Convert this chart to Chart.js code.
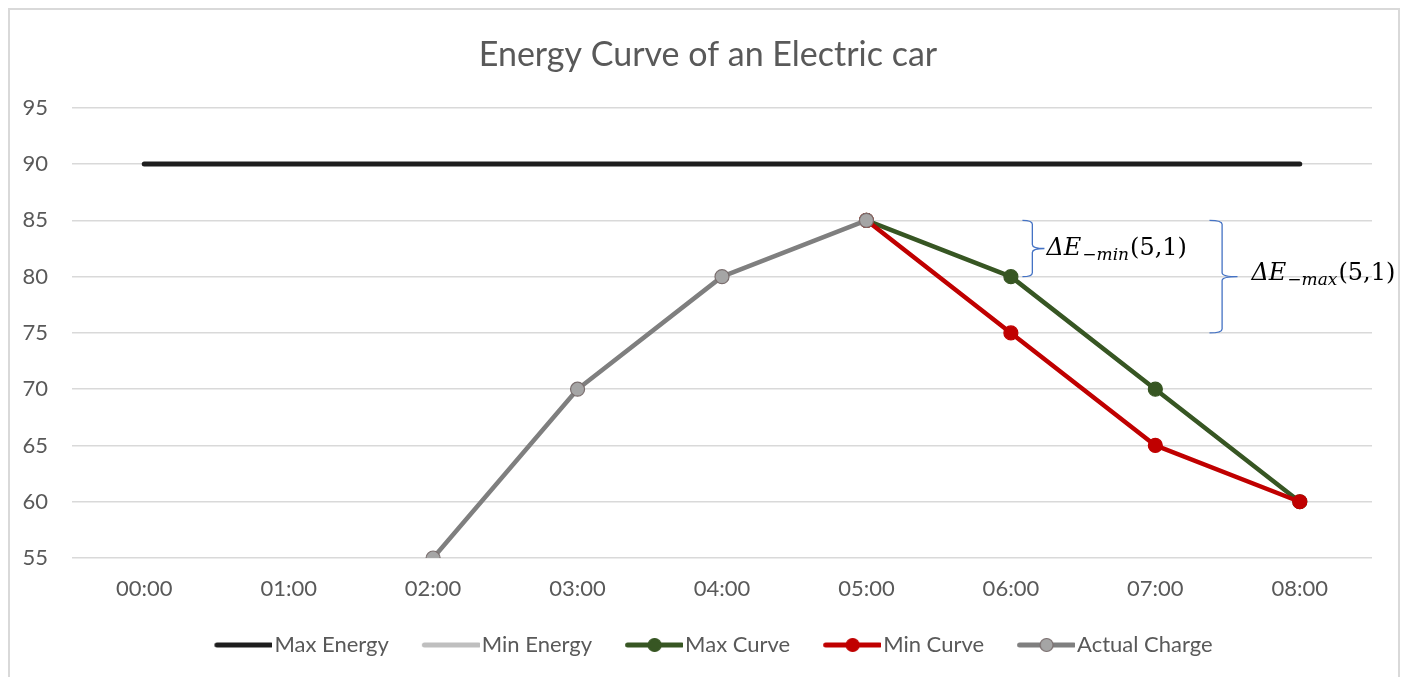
<!DOCTYPE html>
<html>
<head>
<meta charset="utf-8">
<script src="https://cdn.jsdelivr.net/npm/chart.js@4/dist/chart.umd.min.js"></script>
<style>
  html, body { margin: 0; padding: 0; background: #fff; }
  #wrap { position: relative; width: 1406px; height: 677px; }
</style>
</head>
<body>
<div id="wrap"><canvas id="c" width="1406" height="677"></canvas></div>
<script>
// Hourly time slots
const hours = ['00:00', '01:00', '02:00', '03:00', '04:00', '05:00', '06:00', '07:00', '08:00'];

// Energy series
const maxEnergy    = [90, 90, 90, 90, 90, 90, 90, 90, 90];
const minEnergy    = [50, 50, 50, 50, 50, 50, 50, 50, 50];
const maxCurve     = [null, null, null, null, null, 85, 80, 70, 60];
const minCurve     = [null, null, null, null, null, 85, 75, 65, 60];
const actualCharge = [null, null, 55, 70, 80, 85, null, null, null];

// Value axis range
const yMin = 55;
const yMax = 95;
const yStep = 5;

// Energy-gap brackets: top value, bottom value, subscript
const gapTop    = [85, 85];
const gapBottom = [80, 75];
const gapSub    = ['\u2212min', '\u2212max'];

const TEXT = '#595959';
const FONT = 'Lato, "Open Sans", sans-serif';

// Legend swatch: a line with an optional round marker, drawn to the left of
// the swatch centre so the line ends right next to the label text
function swatch(color, marker, markerBorder) {
  const cv = document.createElement('canvas');
  cv.width = 78; cv.height = 18;
  const g = cv.getContext('2d');
  g.strokeStyle = color;
  g.lineWidth = 5;
  g.lineCap = 'round';
  g.beginPath(); g.moveTo(22.5, 9); g.lineTo(76.5, 9); g.stroke();
  if (marker) {
    g.beginPath(); g.arc(49.5, 9, 6.5, 0, Math.PI * 2);
    g.fillStyle = marker; g.fill();
    g.lineWidth = 1.2; g.strokeStyle = markerBorder || marker; g.stroke();
  }
  return cv;
}

// Curly brackets with ΔE labels beside the falling curves
const braces = {
  id: 'braces',
  afterDatasetsDraw(chart) {
    const { ctx, scales: { x, y } } = chart;
    const look = [
      { at: 6.08,  width: 22, gap: 2,  drop: 7 },
      { at: 7.375, width: 28, gap: 14, drop: 3 }
    ];
    ctx.save();
    for (let i = 0; i < gapTop.length; i++) {
      const L = look[i];
      const x0 = x.getPixelForValue(L.at);
      const yT = y.getPixelForValue(gapTop[i]);
      const yB = y.getPixelForValue(gapBottom[i]);
      const ym = (yT + yB) / 2;
      const xv = x0 + L.width * 0.45;
      const x1 = x0 + L.width;
      const r = 4;
      ctx.strokeStyle = '#4472c4';
      ctx.lineWidth = 1.3;
      ctx.beginPath();
      ctx.moveTo(x0, yT);
      ctx.quadraticCurveTo(xv, yT, xv, yT + r);
      ctx.lineTo(xv, ym - r);
      ctx.quadraticCurveTo(xv, ym, x1, ym);
      ctx.quadraticCurveTo(xv, ym, xv, ym + r);
      ctx.lineTo(xv, yB - r);
      ctx.quadraticCurveTo(xv, yB, x0, yB);
      ctx.stroke();

      let tx = x1 + L.gap;
      const base = ym + L.drop;
      ctx.fillStyle = '#000';
      ctx.textBaseline = 'alphabetic';
      ctx.textAlign = 'left';
      ctx.font = 'italic 24px "DejaVu Serif", serif';
      ctx.fillText('\u0394E', tx, base);
      tx += ctx.measureText('\u0394E').width + 1;
      ctx.font = 'italic 17px "DejaVu Serif", serif';
      ctx.fillText(gapSub[i], tx, base + 5);
      tx += ctx.measureText(gapSub[i]).width + 1;
      ctx.font = '24px "DejaVu Serif", serif';
      ctx.fillText('(5,1)', tx, base);
    }
    ctx.restore();
  }
};

// White background and thin outer frame
const frame = {
  id: 'frame',
  beforeDraw(chart) {
    const ctx = chart.ctx;
    ctx.save();
    ctx.fillStyle = '#fff';
    ctx.fillRect(0, 0, chart.width, chart.height);
    ctx.strokeStyle = '#d9d9d9';
    ctx.lineWidth = 2;
    ctx.strokeRect(9, 9, 1390, 700);
    ctx.restore();
  }
};

const line = (label, data, color, width, order, marker, markerBorder) => ({
  label, data, order,
  borderColor: color,
  backgroundColor: color,
  borderWidth: width,
  borderCapStyle: 'round',
  borderJoinStyle: 'round',
  pointRadius: marker ? 7 : 0,
  pointHoverRadius: marker ? 7 : 0,
  pointBackgroundColor: marker || color,
  pointBorderColor: markerBorder || marker || color,
  pointBorderWidth: 1.2,
  spanGaps: false,
  tension: 0,
  legendSwatch: swatch(color, marker, markerBorder)
});

new Chart(document.getElementById('c'), {
  type: 'line',
  data: {
    labels: hours,
    datasets: [
      line('Max Energy', maxEnergy, '#1e1e1e', 5, 4),
      line('Min Energy', minEnergy, '#bfbfbf', 5, 5),
      line('Max Curve', maxCurve, '#375623', 4.5, 3, '#375623'),
      line('Min Curve', minCurve, '#c00000', 4.5, 2, '#c00000'),
      line('Actual Charge', actualCharge, '#7f7f7f', 4.5, 1, '#a5a5a5', '#7a6e6e')
    ]
  },
  options: {
    responsive: false,
    animation: false,
    devicePixelRatio: 1,
    layout: { padding: { top: 10, left: 10, right: 0, bottom: 11 } },
    plugins: {
      tooltip: { enabled: false },
      title: {
        display: true,
        text: 'Energy Curve of an Electric car',
        color: TEXT,
        font: { family: FONT, size: 34, weight: 'normal' },
        padding: { top: 25, bottom: 32 }
      },
      legend: {
        position: 'bottom',
        labels: {
          color: TEXT,
          font: { family: FONT, size: 22 },
          usePointStyle: true,
          pointStyleWidth: 60,
          padding: 22,
          generateLabels(chart) {
            return chart.data.datasets.map((ds, i) => ({
              text: ds.label,
              pointStyle: ds.legendSwatch,
              fillStyle: ds.borderColor,
              strokeStyle: ds.borderColor,
              lineWidth: 0,
              fontColor: TEXT,
              hidden: false,
              datasetIndex: i
            }));
          }
        }
      }
    },
    scales: {
      x: {
        offset: true,
        afterFit(s) { s.height = 54; },
        grid: { display: false, drawTicks: false },
        border: { display: false },
        ticks: { color: TEXT, font: { family: FONT, size: 22 }, padding: 18 }
      },
      y: {
        min: yMin,
        max: yMax,
        afterFit(s) { s.width = 62; },
        grid: { color: '#d9d9d9', lineWidth: 1.5, drawTicks: false },
        border: { display: false },
        ticks: { stepSize: yStep, color: TEXT, font: { family: FONT, size: 22 }, padding: 24 }
      },
      yr: {
        position: 'right',
        min: yMin,
        max: yMax,
        afterFit(s) { s.width = 34; },
        grid: { display: false, drawTicks: false },
        border: { display: false },
        ticks: { display: false }
      }
    }
  },
  plugins: [frame, braces]
});
</script>
</body>
</html>
